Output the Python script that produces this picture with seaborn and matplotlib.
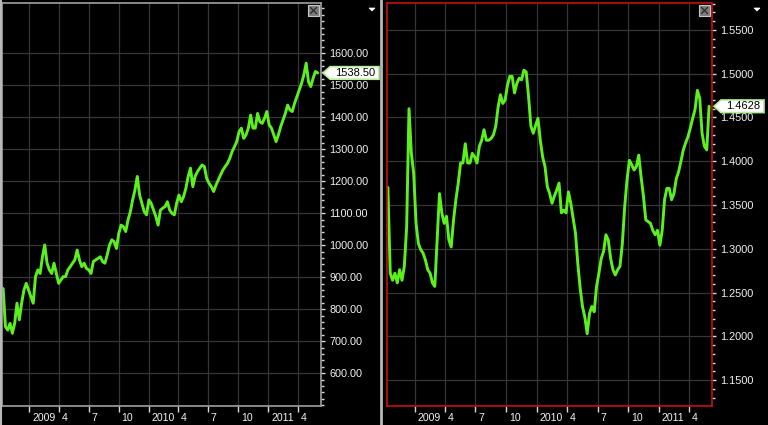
import numpy as np
import pandas as pd
import matplotlib
matplotlib.use('Agg')
import matplotlib.pyplot as plt
import matplotlib.dates as mdates
import matplotlib.ticker as mticker
import matplotlib.transforms as mtrans
from matplotlib.patches import Polygon, Rectangle
from matplotlib.lines import Line2D
import seaborn as sns

# Gold, weekly closes (mid Oct 2008 -> early Jun 2011)
gold = [865, 746, 735, 756, 725, 756, 819, 767, 819, 860,
        881, 860, 840, 819, 902, 923, 912, 964, 1001, 944,
        923, 912, 944, 912, 881, 892, 902, 902, 923, 933,
        944, 954, 985, 954, 933, 944, 928, 923, 912, 949,
        954, 959, 964, 949, 944, 970, 1001, 1017, 1011, 990,
        1037, 1063, 1058, 1043, 1079, 1105, 1142, 1173, 1215, 1157,
        1131, 1105, 1095, 1142, 1131, 1110, 1090, 1063, 1110, 1116,
        1121, 1136, 1110, 1100, 1095, 1131, 1157, 1136, 1152, 1178,
        1215, 1241, 1183, 1215, 1230, 1241, 1251, 1246, 1209, 1194,
        1183, 1168, 1188, 1204, 1220, 1235, 1246, 1256, 1272, 1293,
        1308, 1324, 1355, 1366, 1334, 1345, 1366, 1407, 1366, 1366,
        1412, 1386, 1381, 1397, 1418, 1376, 1366, 1345, 1324, 1345,
        1371, 1392, 1412, 1438, 1423, 1418, 1444, 1464, 1485, 1506,
        1532, 1569, 1511, 1496, 1522, 1543, 1538.50]
gold_last = 1538.50

# EUR/USD, weekly closes
eur = [1.370, 1.272, 1.264, 1.272, 1.261, 1.276, 1.264, 1.280, 1.325, 1.460,
       1.409, 1.386, 1.329, 1.306, 1.299, 1.295, 1.287, 1.276, 1.272, 1.261,
       1.257, 1.310, 1.363, 1.341, 1.329, 1.337, 1.310, 1.302, 1.333, 1.356,
       1.375, 1.398, 1.398, 1.420, 1.398, 1.398, 1.409, 1.405, 1.398, 1.417,
       1.424, 1.436, 1.424, 1.424, 1.426, 1.430, 1.440, 1.462, 1.476, 1.466,
       1.470, 1.487, 1.497, 1.497, 1.478, 1.489, 1.495, 1.493, 1.504, 1.502,
       1.474, 1.440, 1.432, 1.441, 1.449, 1.424, 1.405, 1.394, 1.371, 1.363,
       1.352, 1.360, 1.367, 1.375, 1.341, 1.344, 1.341, 1.365, 1.352, 1.335,
       1.318, 1.283, 1.255, 1.234, 1.222, 1.203, 1.226, 1.234, 1.228, 1.257,
       1.272, 1.289, 1.297, 1.316, 1.310, 1.289, 1.276, 1.270, 1.276, 1.280,
       1.306, 1.348, 1.379, 1.401, 1.396, 1.390, 1.394, 1.407, 1.382, 1.360,
       1.333, 1.331, 1.329, 1.321, 1.316, 1.321, 1.304, 1.321, 1.356, 1.369,
       1.369, 1.356, 1.363, 1.380, 1.388, 1.400, 1.413, 1.421, 1.428, 1.438,
       1.449, 1.459, 1.481, 1.472, 1.432, 1.417, 1.413, 1.4628]
eur_last = 1.4628

gold_dates = pd.date_range('2008-10-13', '2011-06-01', periods=len(gold))
eur_dates = pd.date_range('2008-10-13', '2011-05-30', periods=len(eur))

x_ticks = ['2009-01-01', '2009-04-01', '2009-07-01', '2009-10-01', '2010-01-01',
           '2010-04-01', '2010-07-01', '2010-10-01', '2011-01-01', '2011-04-01']
x_labels = ['2009', '4', '7', '10', '2010', '4', '7', '10', '2011', '4']
gold_ticks = [600, 700, 800, 900, 1000, 1100, 1200, 1300, 1400, 1500, 1600]
eur_ticks = [1.15, 1.20, 1.25, 1.30, 1.35, 1.40, 1.45, 1.50, 1.55]

sns.set_theme(style='dark')
plt.rcParams['font.family'] = ['Liberation Sans', 'DejaVu Sans']

W, H = 768, 425
fig = plt.figure(figsize=(W / 100, H / 100), dpi=100, facecolor='black')
ident = mtrans.IdentityTransform()

LINE = '#5cf01c'
GRID = '#363636'
TXT = '#f2f2f2'
ref = mdates.date2num(pd.Timestamp('2009-01-01'))


def panel(box, dates, vals, ticks, fmt, minor, ylim, xlim, frame):
    ax = fig.add_axes([box[0] / W, (H - box[3]) / H, (box[2] - box[0]) / W, (box[3] - box[1]) / H])
    ax.set_facecolor('black')
    sns.lineplot(x=dates, y=vals, ax=ax, color=LINE, lw=2.1)
    ax.set_xlim(ref + xlim[0], ref + xlim[1])
    ax.set_ylim(*ylim)
    ax.set_xlabel('')
    ax.set_ylabel('')
    for s in ax.spines.values():
        s.set_visible(True)
        s.set_color(frame)
        s.set_linewidth(1.2)
    ax.yaxis.tick_right()
    ax.yaxis.set_major_locator(mticker.FixedLocator(ticks))
    ax.yaxis.set_major_formatter(mticker.FormatStrFormatter(fmt))
    ax.yaxis.set_minor_locator(mticker.MultipleLocator(minor))
    ax.set_xticks([mdates.date2num(pd.Timestamp(t)) for t in x_ticks])
    ax.set_xticklabels(x_labels)
    ax.tick_params(axis='y', which='major', direction='out', length=3, width=1,
                   color='#d8d8d8', labelcolor=TXT, labelsize=7.8, pad=3,
                   right=True, left=False)
    ax.tick_params(axis='y', which='minor', direction='out', length=2, width=1,
                   color='#d8d8d8', right=True, left=False)
    ax.tick_params(axis='x', which='major', direction='out', length=4, width=1,
                   color='#d8d8d8', labelcolor=TXT, labelsize=7.6, pad=1, bottom=True)
    off = mtrans.ScaledTranslation(2 / 72, 0, fig.dpi_scale_trans)
    for lab in ax.get_xticklabels():
        lab.set_ha('left')
        lab.set_transform(lab.get_transform() + off)
    ax.grid(True, which='major', color=GRID, lw=0.9)
    ax.grid(False, which='minor')
    return ax


ax1 = panel((2, 2.7, 321, 406), gold_dates, gold, gold_ticks, '%.2f', 20,
            (497.8, 1758), (-83.4, 891), '#a0a0a0')
ax2 = panel((387, 2.5, 712, 406), eur_dates, eur, eur_ticks, '%.4f', 0.01,
            (1.1203, 1.5814), (-82.7, 887.7), '#c41010')


def price_tag(ax, value, text, x0, x1):
    y = ax.transData.transform((ax.get_xlim()[0], value))[1]
    h = 6.3
    pts = [(x0, y), (x0 + 7, y + h), (x1, y + h), (x1, y - h), (x0 + 7, y - h)]
    fig.add_artist(Polygon(pts, closed=True, transform=ident, fc='white',
                           ec='#b6ec96', lw=1.2))
    fig.text((x0 + 7 + x1) / 2 + 1, y, text, transform=ident, ha='center',
             va='center', color='black', fontsize=8)


def close_button(x, y):
    yy = H - y
    fig.add_artist(Rectangle((x, yy - 11), 11, 11, transform=ident,
                             fc='#7c7c7c', ec='#c8c8c8', lw=0.8))
    fig.add_artist(Line2D([x + 2.5, x + 8.5], [yy - 2.5, yy - 8.5], transform=ident,
                          color='#2a2a2a', lw=0.9))
    fig.add_artist(Line2D([x + 2.5, x + 8.5], [yy - 8.5, yy - 2.5], transform=ident,
                          color='#2a2a2a', lw=0.9))


def drop_arrow(x, y):
    yy = H - y
    fig.add_artist(Polygon([(x - 3, yy), (x + 3, yy), (x, yy - 3)], closed=True,
                           transform=ident, fc='white', ec='white', lw=0.5))


price_tag(ax1, gold_last, '1538.50', 323, 379)
price_tag(ax2, eur_last, '1.4628', 714, 764)
close_button(308, 5)
close_button(699, 5)
drop_arrow(372, 8)
drop_arrow(757, 8)

# pane divider and outer left border
fig.add_artist(Line2D([380.5, 380.5], [0, H], transform=ident, color='#b8b8b8', lw=2))
fig.add_artist(Line2D([0.5, 0.5], [0, H], transform=ident, color='#b8b8b8', lw=1.5))

fig.savefig('out.png', dpi=100, facecolor='black')
